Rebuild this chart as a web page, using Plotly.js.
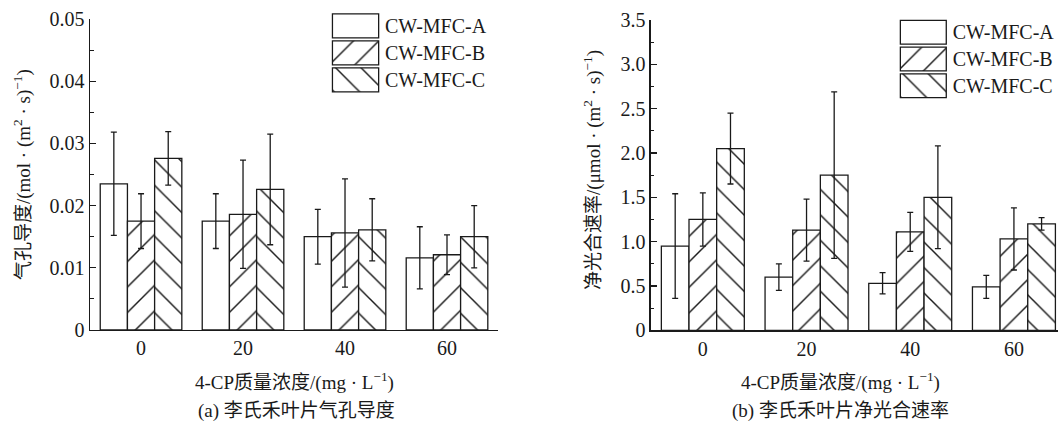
<!DOCTYPE html>
<html>
<head>
<meta charset="utf-8">
<script src="https://cdn.plot.ly/plotly-3.0.1.min.js"></script>
<style>
html,body{margin:0;padding:0;background:#fff;}
#chart{width:1058px;height:427px;}
</style>
</head>
<body>
<div id="chart"></div>
<script>
// ---------- data ----------
const categories = ['0', '20', '40', '60'];
const seriesNames = ['CW-MFC-A', 'CW-MFC-B', 'CW-MFC-C'];

// (a) stomatal conductance, mol/(m2*s)
const gsA = [0.0235, 0.0175, 0.0150, 0.0116];
const gsB = [0.0175, 0.0186, 0.0156, 0.0121];
const gsC = [0.0276, 0.0226, 0.0161, 0.0150];
const gsErrA = [0.0083, 0.0044, 0.0044, 0.0050];
const gsErrB = [0.0044, 0.0087, 0.0087, 0.0032];
const gsErrC = [0.0043, 0.0089, 0.0050, 0.0050];

// (b) net photosynthetic rate, umol/(m2*s)
const pnA = [0.95, 0.60, 0.53, 0.49];
const pnB = [1.25, 1.13, 1.11, 1.03];
const pnC = [2.05, 1.75, 1.50, 1.20];
const pnErrA = [0.59, 0.15, 0.12, 0.13];
const pnErrB = [0.30, 0.35, 0.22, 0.35];
const pnErrC = [0.40, 0.94, 0.58, 0.07];

const leftTickVals = [0, 0.01, 0.02, 0.03, 0.04, 0.05];
const leftTickText = ['0', '0.01', '0.02', '0.03', '0.04', '0.05'];
const rightTickVals = [0, 0.5, 1.0, 1.5, 2.0, 2.5, 3.0, 3.5];
const rightTickText = ['0', '0.5', '1.0', '1.5', '2.0', '2.5', '3.0', '3.5'];

const legendSwatch = [1, 1, 1];
const patternShapes = ['', '/', '\\'];

// ---------- style ----------
const FONT = "'Liberation Serif', 'Noto Sans CJK SC', serif";
const INK = '#1a1a1a';

function barTrace(y, err, idx, xa, ya) {
  return {
    type: 'bar', x: categories, y: y, name: seriesNames[idx],
    xaxis: xa, yaxis: ya, showlegend: false,
    marker: {
      color: '#ffffff',
      line: {color: INK, width: 1.3},
      pattern: {shape: patternShapes[idx], fgcolor: INK, bgcolor: '#ffffff', size: 18, solidity: 0.08, fillmode: 'replace'}
    },
    error_y: {type: 'data', array: err, visible: true, color: INK, thickness: 1.3, width: 3}
  };
}

function legendTrace(xa, ya) {
  return {
    type: 'bar', orientation: 'h', y: seriesNames, x: legendSwatch,
    xaxis: xa, yaxis: ya, showlegend: false, width: 0.89, hoverinfo: 'skip',
    marker: {
      color: '#ffffff',
      line: {color: INK, width: 1.3},
      pattern: {shape: patternShapes, fgcolor: INK, bgcolor: '#ffffff', size: 18, solidity: 0.08, fillmode: 'replace'}
    }
  };
}

const traces = [
  barTrace(gsA, gsErrA, 0, 'x', 'y'),
  barTrace(gsB, gsErrB, 1, 'x', 'y'),
  barTrace(gsC, gsErrC, 2, 'x', 'y'),
  barTrace(pnA, pnErrA, 0, 'x2', 'y2'),
  barTrace(pnB, pnErrB, 1, 'x2', 'y2'),
  barTrace(pnC, pnErrC, 2, 'x2', 'y2'),
  legendTrace('x3', 'y3'),
  legendTrace('x4', 'y4')
];

const xBase = {
  type: 'category', showline: true, linecolor: INK, linewidth: 1.5,
  ticks: '', showgrid: false, zeroline: false,
  tickfont: {family: FONT, size: 20, color: INK}, fixedrange: true
};
const yBase = {
  showline: true, linecolor: INK, linewidth: 1.5, showgrid: false, zeroline: false,
  ticks: 'inside', ticklen: 6, tickwidth: 1.3, tickcolor: INK,
  tickfont: {family: FONT, size: 20, color: INK}, fixedrange: true
};
const legX = {range: [-0.03, 1.03], visible: false, fixedrange: true};
const legY = {
  type: 'category', categoryarray: seriesNames, range: [2.5, -0.5],
  side: 'right', showline: false, ticks: '', showgrid: false, zeroline: false,
  ticklabelstandoff: 4,
  tickfont: {family: FONT, size: 20, color: INK}, fixedrange: true
};

const ann = (text, x, y, angle) => ({
  text: text, xref: 'paper', yref: 'paper', x: x, y: y,
  xanchor: 'center', yanchor: 'middle', showarrow: false, textangle: angle || 0,
  font: {family: FONT, size: 19, color: INK}
});

const layout = {
  width: 1058, height: 427,
  margin: {l: 0, r: 0, t: 0, b: 0},
  paper_bgcolor: '#ffffff', plot_bgcolor: 'rgba(0,0,0,0)',
  barmode: 'group', bargap: 0.2, bargroupgap: 0,
  showlegend: false,
  xaxis: Object.assign({}, xBase, {domain: [0.0851, 0.4707], anchor: 'y', range: [-0.5, 3.5]}),
  yaxis: Object.assign({}, yBase, {domain: [0.2272, 0.9555], anchor: 'x', range: [0, 0.05],
    tickvals: leftTickVals, ticktext: leftTickText,
    minor: {dtick: 0.005, ticks: 'inside', ticklen: 3.5, tickwidth: 1.2, tickcolor: INK, showgrid: false}}),
  xaxis2: Object.assign({}, xBase, {domain: [0.6153, 1.0], anchor: 'y2', range: [-0.5, 3.425]}),
  yaxis2: Object.assign({}, yBase, {domain: [0.2265, 0.9532], anchor: 'x2', range: [0, 3.5],
    tickvals: rightTickVals, ticktext: rightTickText,
    minor: {dtick: 0.25, ticks: 'inside', ticklen: 3.5, tickwidth: 1.2, tickcolor: INK, showgrid: false}}),
  xaxis3: Object.assign({}, legX, {domain: [0.3129, 0.3592], anchor: 'y3'}),
  yaxis3: Object.assign({}, legY, {domain: [0.7815, 0.9712], anchor: 'x3'}),
  xaxis4: Object.assign({}, legX, {domain: [0.8497, 0.8957], anchor: 'y4'}),
  yaxis4: Object.assign({}, legY, {domain: [0.7681, 0.9555], anchor: 'x4'}),
  annotations: [
    ann('气孔导度/(mol · (m<sup>2</sup> · s)<sup>−1</sup>)', 22 / 1058, 0.590, -90),
    ann('净光合速率/(μmol · (m<sup>2</sup> · s)<sup>−1</sup>)', 593 / 1058, 0.602, -90),
    ann('4-CP质量浓度/(mg · L<sup>−1</sup>)', 294 / 1058, 1 - 381 / 427),
    ann('4-CP质量浓度/(mg · L<sup>−1</sup>)', 840 / 1058, 1 - 381 / 427),
    ann('(a) 李氏禾叶片气孔导度', 296 / 1058, 1 - 411 / 427),
    ann('(b) 李氏禾叶片净光合速率', 840 / 1058, 1 - 411 / 427)
  ]
};

Plotly.newPlot('chart', traces, layout, {staticPlot: true, displayModeBar: false});
</script>
</body>
</html>
